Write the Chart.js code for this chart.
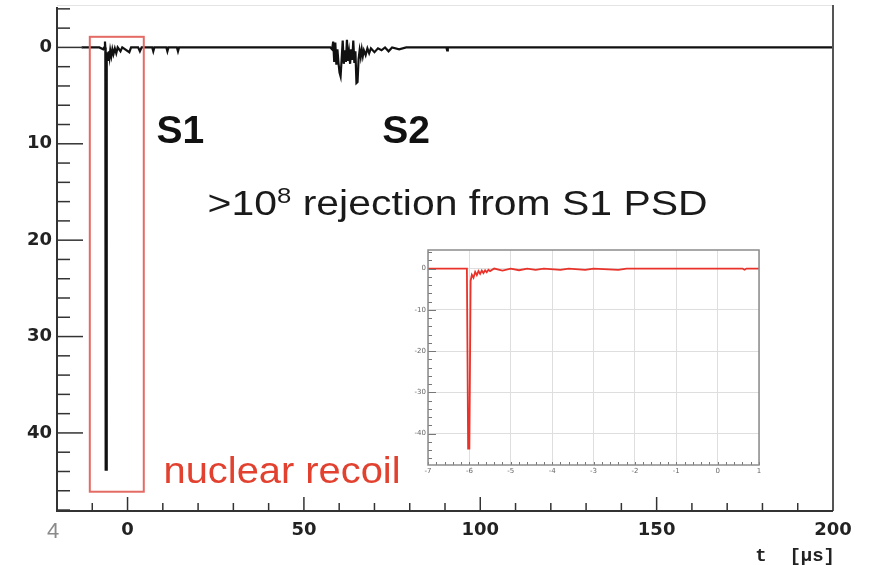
<!DOCTYPE html>
<html>
<head>
<meta charset="utf-8">
<script src="https://cdn.jsdelivr.net/npm/chart.js@4.4.0/dist/chart.umd.min.js"></script>
<style>
  html, body { margin: 0; padding: 0; background: #fff; }
  #wrap { position: relative; width: 871px; height: 565px; }
  #main { position: absolute; left: 0; top: 0; }
  #inset { position: absolute; left: 395px; top: 240px; }
</style>
</head>
<body>
<div id="wrap">
  <canvas id="main" width="871" height="565"></canvas>
  <canvas id="inset" width="375" height="240"></canvas>
</div>
<script>
// main waveform: time in us, amplitude (drawn downwards)
const mainTime = [-13, -8, -6.9, -6.6, -6.4, -6.3, -6.2, -6.0, -5.9, -5.7, -5.5, -5.3, -5.1, -4.9, -4.6, -4.3, -4.0, -3.6, -3.2, -2.8, -2.0, -1.5,
  0.5, 1, 3, 3.5, 4, 7, 7.3, 7.6, 11, 11.3, 11.6, 14, 14.3, 14.6,
  57.5, 58, 58.3, 58.6, 58.9, 59.2, 59.5, 59.8, 60.1, 60.4, 60.7, 61, 61.3, 61.6, 61.9, 62.2, 62.5, 62.8, 63.1, 63.4, 63.7,
  64, 64.3, 64.6, 64.9, 65.2, 65.5, 65.8, 66.1, 66.4, 66.7, 67, 67.5, 68, 68.5, 69, 70, 71, 72, 73, 74, 75, 77, 79,
  90.4, 90.6, 90.8, 200];
const mainAmp = [0, 0, 0.2, 0, -0.6, 0, 43.8, 43.8, 1.2, 0.5, 1.3, 0.4, 1.0, 0.3, 0.9, 0.2, 0.7, 0.1, 0.6, 0, 0.4, 0,
  0.5, 0, 0, 0.4, 0, 0, 0.4, 0, 0, 0.4, 0, 0, 0.4, 0,
  0, 0.2, -0.6, 1.5, -0.5, 1.8, 0.2, 1.6, 2.6, 3.0, 1.2, -0.7, 1.7, 0.3, 1.5, -0.8, 1.4, 0.5, 1.7, 0.2, 1.3,
  -0.7, 1.6, 0.4, 3.7, 3.6, 1.2, 0.3, 1.0, 0.2, 0.9, 0.3, 0.8, 0.1, 0.6, 0.1, 0.5, 0.1, 0.3, 0, 0.4, 0, 0.2, 0,
  0, 0.3, 0, 0];
const xTicksMain = [0, 50, 100, 150, 200];
const yTicksMain = [0, 10, 20, 30, 40];

// inset waveform (zoom on S1)
const insetTime = [-7, -6.06, -6.03, -6.0, -5.97, -5.94, -5.9, -5.86, -5.82, -5.78, -5.74, -5.7, -5.66, -5.62, -5.58, -5.54, -5.5,
  -5.4, -5.2, -5.0, -4.8, -4.6, -4.4, -4.2, -3.8, -3.6, -3.2, -3.0, -2.4, -2.2, 0.6, 0.65, 0.7, 1];
const insetAmp = [0, 0, -43.6, -43.6, -3, -1.5, -2.2, -0.8, -1.6, -0.6, -1.3, -0.5, -1.1, -0.4, -0.9, -0.3, -0.6,
  0, -0.5, 0, -0.4, 0, -0.3, 0, -0.3, 0, -0.3, 0, -0.3, 0, 0, -0.3, 0, 0];
const xTicksInset = [-7, -6, -5, -4, -3, -2, -1, 0, 1];
const yTicksInset = [0, -10, -20, -30, -40];

// annotations (data coordinates of main plot)
const s1Box = { t0: -10.7, t1: 4.6, a0: -1.1, a1: 46.1 };

function drawFitted(ctx, parts, x0, baseline, width) {
  let w = 0;
  parts.forEach(p => { ctx.font = p.font; w += ctx.measureText(p.text).width; });
  const sx = width / w;
  ctx.save();
  ctx.translate(x0, baseline);
  ctx.scale(sx, 1);
  let cx = 0;
  parts.forEach(p => {
    ctx.font = p.font;
    ctx.fillText(p.text, cx, p.dy || 0);
    cx += ctx.measureText(p.text).width;
  });
  ctx.restore();
}

// no extra room reserved for half labels at the ends
function noPad(s) {
  s.paddingTop = 0; s.paddingBottom = 0; s.paddingLeft = 0; s.paddingRight = 0;
}

const mainDecor = {
  id: 'mainDecor',
  afterDatasetsDraw(chart) {
    const { ctx, chartArea: a, scales: { x, y } } = chart;
    ctx.save();
    // frame
    ctx.strokeStyle = '#e4e4e4'; ctx.lineWidth = 1;
    ctx.beginPath(); ctx.moveTo(a.left, a.top + 0.5); ctx.lineTo(a.right, a.top + 0.5); ctx.stroke();
    ctx.strokeStyle = '#555'; ctx.lineWidth = 2;
    ctx.beginPath(); ctx.moveTo(a.right, a.top); ctx.lineTo(a.right, a.bottom); ctx.stroke();
    ctx.strokeStyle = '#333'; ctx.lineWidth = 2;
    ctx.beginPath(); ctx.moveTo(a.left, a.top + 2); ctx.lineTo(a.left, a.bottom); ctx.lineTo(a.right, a.bottom); ctx.stroke();
    // ticks, inside the frame
    ctx.lineWidth = 1.5; ctx.strokeStyle = '#333';
    for (let v = -10; v < 200; v += 10) {
      const px = x.getPixelForValue(v);
      const len = v % 50 === 0 ? 14 : 8;
      ctx.beginPath(); ctx.moveTo(px, a.bottom); ctx.lineTo(px, a.bottom - len); ctx.stroke();
    }
    for (let v = -4; v <= 48; v += 2) {
      const py = y.getPixelForValue(v);
      const len = v % 10 === 0 ? 26 : 13;
      ctx.beginPath(); ctx.moveTo(a.left, py); ctx.lineTo(a.left + len, py); ctx.stroke();
    }
    // red box around S1
    ctx.strokeStyle = '#e46a64'; ctx.lineWidth = 2;
    const bx0 = x.getPixelForValue(s1Box.t0), bx1 = x.getPixelForValue(s1Box.t1);
    const by0 = y.getPixelForValue(s1Box.a0), by1 = y.getPixelForValue(s1Box.a1);
    ctx.strokeRect(bx0, by0, bx1 - bx0, by1 - by0);

    // texts
    ctx.textBaseline = 'alphabetic';
    ctx.fillStyle = '#111';
    ctx.font = 'bold 39px "Liberation Sans", Arial, sans-serif';
    ctx.fillText('S1', x.getPixelForValue(8.2), y.getPixelForValue(9.9));
    ctx.fillText('S2', x.getPixelForValue(72.2), y.getPixelForValue(9.9));

    ctx.fillStyle = '#1a1a1a';
    drawFitted(ctx, [
      { text: '>10', font: '35px "Liberation Sans", Arial, sans-serif' },
      { text: '8', font: '22px "Liberation Sans", Arial, sans-serif', dy: -12 },
      { text: ' rejection from S1 PSD', font: '35px "Liberation Sans", Arial, sans-serif' }
    ], x.getPixelForValue(22.7), y.getPixelForValue(17.4), 500);

    ctx.fillStyle = '#e2412f';
    drawFitted(ctx, [
      { text: 'nuclear recoil', font: '37px "Liberation Sans", Arial, sans-serif' }
    ], x.getPixelForValue(10.2), y.getPixelForValue(45.2), 237);

    // axis title and stray label
    ctx.fillStyle = '#222';
    ctx.font = 'bold 19px "Liberation Mono", "DejaVu Sans Mono", monospace';
    ctx.textAlign = 'right';
    ctx.fillText('t  [\u00b5s]', a.right + 2, 561);
    ctx.textAlign = 'left';
    ctx.fillStyle = '#8a8a8a';
    ctx.font = '22px "Liberation Sans", Arial, sans-serif';
    ctx.fillText('4', 47, 538);
    ctx.restore();
  }
};

new Chart(document.getElementById('main'), {
  type: 'line',
  data: {
    datasets: [{
      data: mainTime.map((t, i) => ({ x: t, y: mainAmp[i] })),
      borderColor: '#111',
      borderWidth: 2.2,
      pointRadius: 0,
      tension: 0
    }]
  },
  options: {
    responsive: false,
    animation: false,
    layout: { padding: { top: 5, right: 38, left: 0, bottom: 0 } },
    plugins: { legend: { display: false }, tooltip: { enabled: false } },
    scales: {
      x: {
        type: 'linear', min: -20, max: 200,
        afterFit(s) { s.height = 54; noPad(s); },
        afterBuildTicks(s) { s.ticks = xTicksMain.map(v => ({ value: v })); },
        grid: { display: false, drawTicks: false },
        border: { display: false },
        ticks: { padding: 9, maxRotation: 0, autoSkip: false, color: '#222',
          font: { family: 'DejaVu Sans', weight: 'bold', size: 18 } }
      },
      y: {
        type: 'linear', reverse: true, min: -4.4, max: 48.1,
        afterFit(s) { s.width = 57; noPad(s); },
        afterBuildTicks(s) { s.ticks = yTicksMain.map(v => ({ value: v })); },
        grid: { display: false, drawTicks: false },
        border: { display: false },
        ticks: { padding: 5, autoSkip: false, color: '#222',
          font: { family: 'DejaVu Sans', weight: 'bold', size: 18 } }
      }
    }
  },
  plugins: [mainDecor]
});

const insetDecor = {
  id: 'insetDecor',
  afterDatasetsDraw(chart) {
    const { ctx, chartArea: a, scales: { x, y } } = chart;
    ctx.save();
    ctx.strokeStyle = '#777'; ctx.lineWidth = 1;
    for (let v = -7; v <= 1.001; v += 0.2) {
      const px = Math.round(x.getPixelForValue(v)) + 0.5;
      ctx.beginPath(); ctx.moveTo(px, a.bottom); ctx.lineTo(px, a.bottom - 3); ctx.stroke();
    }
    for (let v = -46; v <= 4; v += 2) {
      const py = Math.round(y.getPixelForValue(v)) + 0.5;
      const len = v % 10 === 0 ? 8 : 4;
      ctx.beginPath(); ctx.moveTo(a.left, py); ctx.lineTo(a.left + len, py); ctx.stroke();
    }
    ctx.strokeStyle = '#8c8c8c'; ctx.lineWidth = 1.5;
    ctx.strokeRect(a.left, a.top, a.right - a.left, a.bottom - a.top);
    ctx.restore();
  }
};

new Chart(document.getElementById('inset'), {
  type: 'line',
  data: {
    datasets: [{
      data: insetTime.map((t, i) => ({ x: t, y: insetAmp[i] })),
      borderColor: '#e8322a',
      borderWidth: 1.8,
      pointRadius: 0,
      tension: 0
    }]
  },
  options: {
    responsive: false,
    animation: false,
    layout: { padding: { top: 10, right: 11, left: 0, bottom: 0 } },
    plugins: { legend: { display: false }, tooltip: { enabled: false } },
    scales: {
      x: {
        type: 'linear', min: -7, max: 1,
        afterFit(s) { s.height = 15; noPad(s); },
        afterBuildTicks(s) { s.ticks = xTicksInset.map(v => ({ value: v })); },
        grid: { color: '#dedede', drawTicks: false },
        border: { display: false },
        ticks: { padding: 2, maxRotation: 0, autoSkip: false, color: '#666',
          font: { family: 'DejaVu Sans', size: 7 } }
      },
      y: {
        type: 'linear', min: -47.6, max: 4.5,
        afterFit(s) { s.width = 33; noPad(s); },
        afterBuildTicks(s) { s.ticks = yTicksInset.map(v => ({ value: v })); },
        grid: { color: '#dedede', drawTicks: false },
        border: { display: false },
        ticks: { padding: 2, autoSkip: false, color: '#666',
          font: { family: 'DejaVu Sans', size: 7 } }
      }
    }
  },
  plugins: [insetDecor]
});
</script>
</body>
</html>
